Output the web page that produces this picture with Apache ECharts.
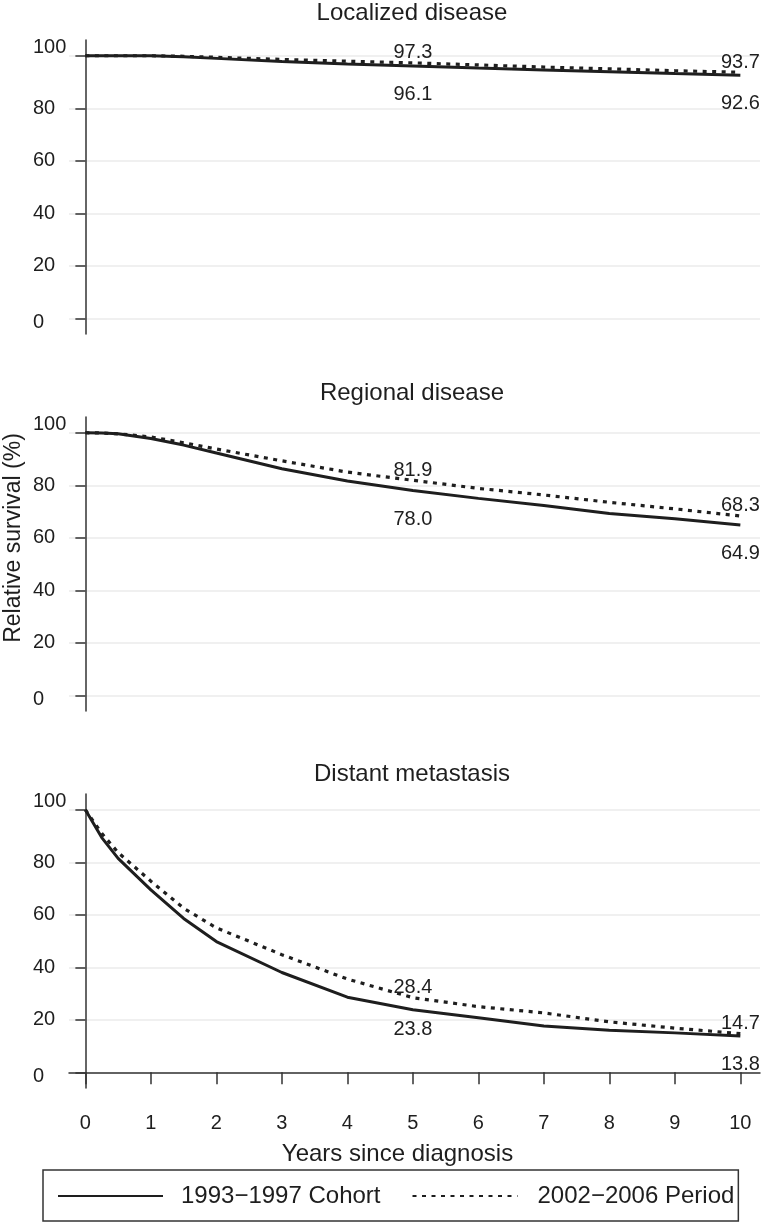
<!DOCTYPE html>
<html>
<head>
<meta charset="utf-8">
<script src="https://cdn.jsdelivr.net/npm/echarts@6/dist/echarts.min.js"></script>
<style>
  html, body { margin: 0; padding: 0; background: #fff; }
  #main { width: 762px; height: 1226px; }
</style>
</head>
<body>
<div id="main"></div>
<script>
// years since diagnosis (x positions of the curve vertices)
var years = [0, 0.25, 0.5, 1, 1.5, 2, 3, 4, 5, 6, 7, 8, 9, 10];

// relative survival (%)
var localizedCohort = [100, 100, 100, 100, 99.6, 99.0, 97.8, 96.9, 96.1, 95.3, 94.6, 93.9, 93.2, 92.6];
var localizedPeriod = [100, 100, 100, 100, 99.8, 99.4, 98.6, 97.9, 97.3, 96.5, 95.7, 95.0, 94.3, 93.7];
var regionalCohort = [100, 99.9, 99.6, 97.8, 95.3, 92.3, 86.3, 81.6, 78.0, 75.0, 72.3, 69.2, 67.2, 64.9];
var regionalPeriod = [100, 99.9, 99.6, 98.4, 96.2, 93.8, 89.3, 85.0, 81.9, 78.8, 76.3, 73.5, 71.0, 68.3];
var distantCohort = [100, 89.4, 81.5, 69.5, 58.6, 49.8, 38.0, 28.6, 23.8, 20.8, 17.6, 16.0, 15.0, 13.8];
var distantPeriod = [100, 91.0, 83.7, 72.8, 62.5, 55.0, 44.8, 35.5, 28.4, 25.0, 22.6, 19.2, 16.8, 14.7];

var panelTitles = ['Localized disease', 'Regional disease', 'Distant metastasis'];
var yTicks = [0, 20, 40, 60, 80, 100];
var xTicks = [0, 1, 2, 3, 4, 5, 6, 7, 8, 9, 10];
var labelYears = [5, 10];
var cohortName = '1993\u22121997 Cohort';
var periodName = '2002\u22122006 Period';

var font = 'Liberation Sans, Arial, Helvetica, sans-serif';
var ink = '#1e1e1e';

var chart = echarts.init(document.getElementById('main'));

var gridTops = [40, 417, 794];

// build line data, putting the value labels at 5 and 10 years
function buildData(vals, dy) {
  return years.map(function (x, i) {
    var item = { value: [x, vals[i]] };
    if (labelYears.indexOf(x) > -1) {
      var off = typeof dy === 'function' ? dy(x) : dy;
      item.label = {
        show: true,
        position: 'inside',
        offset: [0, off],
        formatter: function (p) { return p.value[1].toFixed(1); }
      };
    }
    return item;
  });
}

function lineSeries(name, vals, panel, dotted, dy) {
  return {
    name: name,
    type: 'line',
    xAxisIndex: panel,
    yAxisIndex: panel,
    data: buildData(vals, dy),
    showSymbol: true,
    symbol: 'circle',
    symbolSize: 0,
    z: dotted ? 3 : 4,
    lineStyle: {
      color: ink,
      width: dotted ? 3.2 : 3,
      type: dotted ? [4, 5.5] : 'solid',
      cap: 'butt'
    },
    itemStyle: { color: ink },
    label: { color: ink, fontSize: 20, fontFamily: font },
    emphasis: { disabled: true }
  };
}

var grids = gridTops.map(function (t) {
  return { left: 69, right: 2, top: t, height: 294 };
});

var xAxes = gridTops.map(function (t, i) {
  var last = i === 2;
  return {
    gridIndex: i,
    type: 'value',
    min: -0.25,
    max: 10.3,
    show: last,
    name: last ? 'Years since diagnosis' : '',
    nameLocation: 'middle',
    nameGap: 54,
    nameTextStyle: { fontSize: 24, fontFamily: font, color: ink, padding: [0, 34, 0, 0] },
    axisLine: { show: last, lineStyle: { color: '#333', width: 1.5 } },
    axisTick: { show: last, length: 12, customValues: xTicks, lineStyle: { color: '#333', width: 1.5 } },
    axisLabel: { show: last, customValues: xTicks, margin: 25, fontSize: 20, fontFamily: font, color: ink },
    splitLine: { show: false }
  };
});

// y labels sit left-aligned; the 100 is raised and the 0 dropped a little
var yRich = {
  top: { fontSize: 20, fontFamily: font, color: ink, padding: [0, 0, 16, 0] },
  bot: { fontSize: 20, fontFamily: font, color: ink, padding: [8, 0, 0, 0] }
};
var yAxes = gridTops.map(function (t, i) {
  return {
    gridIndex: i,
    type: 'value',
    min: -6,
    max: 106,
    axisLine: { show: true, lineStyle: { color: '#333', width: 1.5 } },
    axisTick: { show: true, length: 10, customValues: yTicks, lineStyle: { color: '#333', width: 1.5 } },
    axisLabel: {
      customValues: yTicks,
      margin: 36,
      align: 'left',
      fontSize: 20,
      fontFamily: font,
      color: ink,
      rich: yRich,
      formatter: function (v) {
        if (v === 100) return '{top|100}';
        if (v === 0) return '{bot|0}';
        return String(v);
      }
    },
    splitLine: { show: true, lineStyle: { color: '#ebebeb', width: 1.5 } }
  };
});

var titleTops = [1, 381, 762];
var titles = panelTitles.map(function (txt, i) {
  return {
    text: txt,
    left: 412,
    textAlign: 'center',
    top: titleTops[i],
    padding: 0,
    textStyle: { fontSize: 24, fontWeight: 'normal', fontFamily: font, color: ink }
  };
});

var option = {
  animation: false,
  backgroundColor: '#fff',
  title: titles,
  grid: grids,
  xAxis: xAxes,
  yAxis: yAxes,
  legend: {
    left: 43,
    top: 1170,
    padding: [14, 4, 13, 14],
    borderColor: '#333',
    borderWidth: 1.5,
    itemWidth: 105,
    itemHeight: 14,
    itemGap: 31,
    itemStyle: { opacity: 0 },
    textStyle: { fontSize: 24, fontFamily: font, color: ink },
    data: [
      { name: cohortName, textStyle: { padding: [0, 0, 0, 13] } },
      { name: periodName, textStyle: { padding: [0, 0, 0, 15] } }
    ]
  },
  graphic: [{
    type: 'text',
    x: 14,
    y: 538,
    rotation: Math.PI / 2,
    style: {
      text: 'Relative survival (%)',
      x: 0,
      y: 0,
      align: 'center',
      verticalAlign: 'middle',
      fontSize: 23,
      fontFamily: font,
      fill: ink
    }
  }],
  series: [
    lineSeries(cohortName, localizedCohort, 0, false, 28),
    lineSeries(periodName, localizedPeriod, 0, true, -10),
    lineSeries(cohortName, regionalCohort, 1, false, 29),
    lineSeries(periodName, regionalPeriod, 1, true, -10),
    lineSeries(cohortName, distantCohort, 2, false, function (x) { return x === 5 ? 20 : 28; }),
    lineSeries(periodName, distantPeriod, 2, true, -10)
  ]
};

chart.setOption(option);
</script>
</body>
</html>
